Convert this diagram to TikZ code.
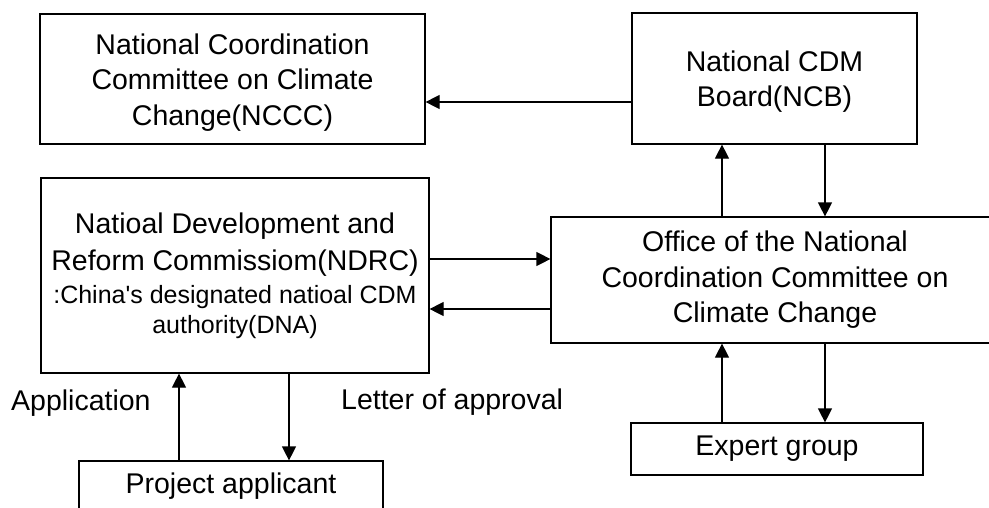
\documentclass[tikz,border=0pt]{standalone}
\usepackage{fontspec}
\setmainfont{Liberation Sans}[Ligatures=TeXOff]
\usetikzlibrary{arrows.meta}
\newcommand\smalltxt{\fontsize{25}{30}\selectfont}
\newcommand\topstrut{\rule{0pt}{27pt}}
\begin{document}
\begin{tikzpicture}[x=1pt,y=-1pt,
  box/.style={draw, line width=1.2pt, rectangle, inner sep=0pt, align=center,
    font={\fontsize{28.5}{35.5}\selectfont}},
  lbl/.style={inner sep=0pt, font={\fontsize{28.5}{35.5}\selectfont}},
  arr/.style={line width=1.2pt, -{Triangle[length=14pt,width=14pt]}}]
\useasboundingbox (0,0) rectangle (989,507);
\node[box, minimum width=385, minimum height=130] (nccc) at (232.5,79)
  {\topstrut National Coordination\\Committee on Climate\\Change(NCCC)};
\node[box, minimum width=285, minimum height=131] (ncb) at (774.5,78.5)
  {\topstrut National CDM\\Board(NCB)};
\node[box, minimum width=388, minimum height=195,
  font={\fontsize{28.5}{37}\selectfont}] (ndrc) at (235,275.5)
  {Natioal Development and\\Reform Commissiom(NDRC)\\[-4pt]
   \smalltxt :China's designated natioal CDM\\[-7pt]
   \smalltxt authority(DNA)};
\node[box, minimum width=448, minimum height=126] (office) at (775,280)
  {Office of the National\\Coordination Committee on\\Climate Change};
\node[box, minimum width=292, minimum height=52] (expert) at (777,449)
  {Expert group};
\node[box, minimum width=304, minimum height=51] (applicant) at (231,486.5)
  {Project applicant};
\node[lbl, anchor=base west] (application) at (11,410) {Application};
\node[lbl, anchor=base west] (letter) at (341,409) {Letter of approval};
% connectors
\draw[arr] ([yshift=-23.5pt]ncb.west) -- ([yshift=-23.5pt]ncb.west -| nccc.east);
\draw[arr] ([xshift=-53pt]office.north) -- ([xshift=-53pt]office.north |- ncb.south);
\draw[arr] ([xshift=50pt]office.north |- ncb.south) -- ([xshift=50pt]office.north);
\draw[arr] ([yshift=21pt]office.west -| ndrc.east) -- ([yshift=21pt]office.west);
\draw[arr] ([yshift=-29pt]office.west) -- ([yshift=-29pt]office.west -| ndrc.east);
\draw[arr] ([xshift=-55pt]expert.north) -- ([xshift=-55pt]expert.north |- office.south);
\draw[arr] ([xshift=48pt]expert.north |- office.south) -- ([xshift=48pt]expert.north);
\draw[arr] ([xshift=-52pt]applicant.north) -- ([xshift=-52pt]applicant.north |- ndrc.south);
\draw[arr] ([xshift=58pt]applicant.north |- ndrc.south) -- ([xshift=58pt]applicant.north);
\end{tikzpicture}
\end{document}
